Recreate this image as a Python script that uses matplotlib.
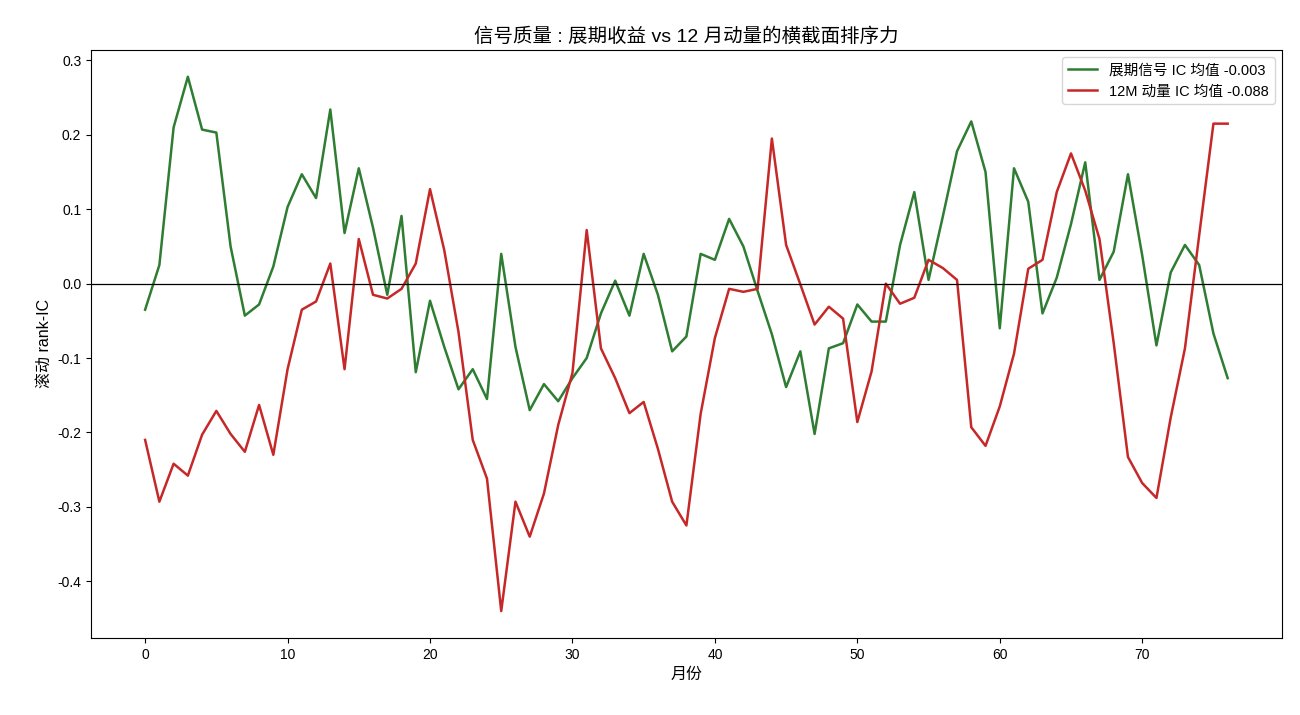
import matplotlib
matplotlib.use('Agg')
import matplotlib.pyplot as plt
import numpy as np

plt.rcParams['font.family'] = ['Liberation Sans', 'Noto Sans CJK SC', 'DejaVu Sans']
plt.rcParams['axes.unicode_minus'] = False

# 滚动 rank-IC（每月）
carry_ic = [-0.035, 0.025, 0.21, 0.278, 0.207, 0.203, 0.05, -0.043, -0.028, 0.023,
            0.103, 0.147, 0.115, 0.234, 0.068, 0.155, 0.075, -0.015, 0.091, -0.119,
            -0.023, -0.085, -0.142, -0.115, -0.155, 0.04, -0.085, -0.17, -0.135, -0.158,
            -0.127, -0.1, -0.04, 0.004, -0.043, 0.04, -0.015, -0.091, -0.071, 0.04,
            0.032, 0.087, 0.05, -0.01, -0.068, -0.139, -0.091, -0.202, -0.087, -0.08,
            -0.028, -0.051, -0.051, 0.052, 0.123, 0.005, 0.09, 0.178, 0.218, 0.15,
            -0.06, 0.155, 0.11, -0.04, 0.008, 0.08, 0.163, 0.005, 0.043, 0.147,
            0.038, -0.083, 0.015, 0.052, 0.025, -0.067, -0.127]

mom_ic = [-0.21, -0.293, -0.242, -0.258, -0.203, -0.171, -0.202, -0.226, -0.163, -0.23,
          -0.115, -0.035, -0.024, 0.027, -0.115, 0.06, -0.015, -0.02, -0.007, 0.027,
          0.127, 0.045, -0.065, -0.21, -0.262, -0.44, -0.293, -0.34, -0.282, -0.19,
          -0.12, 0.072, -0.087, -0.127, -0.174, -0.159, -0.222, -0.293, -0.325, -0.175,
          -0.073, -0.007, -0.011, -0.007, 0.195, 0.052, -0.001, -0.055, -0.031, -0.047,
          -0.186, -0.118, 0.0, -0.027, -0.019, 0.032, 0.021, 0.005, -0.193, -0.218,
          -0.165, -0.094, 0.02, 0.032, 0.123, 0.175, 0.125, 0.06, -0.08, -0.233,
          -0.268, -0.288, -0.18, -0.087, 0.065, 0.215, 0.215]

carry_label = '展期信号 IC 均值 -0.003'
mom_label = '12M 动量 IC 均值 -0.088'

months = np.arange(len(carry_ic))

fig, ax = plt.subplots(figsize=(13, 7.15), dpi=100)
fig.subplots_adjust(left=0.07, right=0.986, top=0.93, bottom=0.108)

ax.plot(months, carry_ic, color='#2e7d32', lw=1.8, label=carry_label)
ax.plot(months, mom_ic, color='#c62828', lw=1.8, label=mom_label)
ax.axhline(0, color='black', lw=0.9)

ax.set_title('信号质量 : 展期收益 vs 12 月动量的横截面排序力', fontsize=14)
ax.set_xlabel('月份', fontsize=11.5)
ax.set_ylabel('滚动 rank-IC', fontsize=11.5)
ax.legend(loc='upper right', fontsize=10.5)

plt.savefig('out.png')
